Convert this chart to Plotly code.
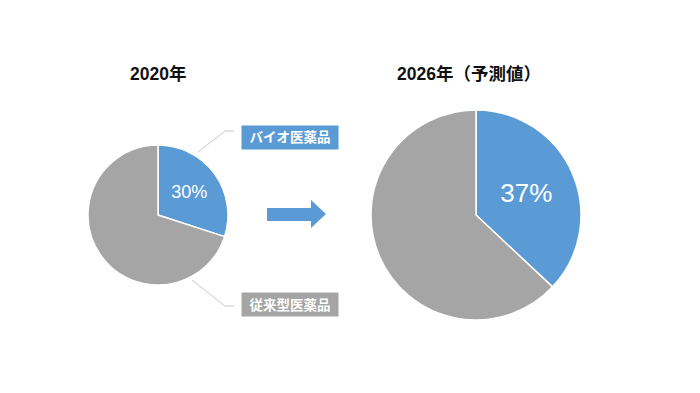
import plotly.graph_objects as go

categories = ["バイオ医薬品", "従来型医薬品"]
share_2020 = [30, 70]
share_2026 = [37, 63]
titles = ["2020年", "2026年（予測値）"]
colors = ["#5B9BD5", "#A5A5A5"]

W, H = 700, 393
FONT = "Liberation Sans, Arial, Noto Sans CJK JP, sans-serif"

def px(x):
    return x / W

def py(y):
    return 1 - y / H

fig = go.Figure()

def add_pie(values, cx, cy, r, fsize):
    fig.add_trace(go.Pie(
        labels=categories, values=values, sort=False, direction="clockwise",
        rotation=0, marker=dict(colors=colors, line=dict(color="white", width=1.5)),
        texttemplate=["%{percent:.0%}", ""], textposition="inside",
        insidetextorientation="horizontal",
        textfont=dict(color="white", size=fsize, family=FONT),
        domain=dict(x=[px(cx - r), px(cx + r)], y=[py(cy + r), py(cy - r)]),
        showlegend=False, hoverinfo="label+percent",
    ))

add_pie(share_2020, 158, 215, 70, 18)
add_pie(share_2026, 476, 215, 105, 26)

# titles
for t, x in zip(titles, [158, 469]):
    fig.add_annotation(text=f"<b>{t}</b>", x=px(x), y=py(74), xref="paper", yref="paper",
                       showarrow=False, font=dict(size=17.5, color="#111", family=FONT),
                       xanchor="center", yanchor="middle")

# category label boxes
for cat, col, y in zip(categories, colors, [138, 304]):
    fig.add_annotation(text=f"<b>{cat}</b>", x=px(290), y=py(y), xref="paper", yref="paper",
                       showarrow=False, font=dict(size=13.5, color="white", family=FONT),
                       bgcolor=col, width=90, height=17, borderpad=3,
                       xanchor="center", yanchor="middle")

# leader lines
fig.add_shape(type="path", xref="paper", yref="paper",
              path=f"M {px(198)} {py(152)} L {px(225)} {py(131)} L {px(234)} {py(131)}",
              line=dict(color="#C8C8C8", width=1))
fig.add_shape(type="path", xref="paper", yref="paper",
              path=f"M {px(192)} {py(280)} L {px(225)} {py(306)} L {px(234)} {py(306)}",
              line=dict(color="#C8C8C8", width=1))

# arrow
arrow = [(267, 208), (311, 208), (311, 200), (326, 214), (311, 228), (311, 221), (267, 221)]
path = "M " + " L ".join(f"{px(x)} {py(y)}" for x, y in arrow) + " Z"
fig.add_shape(type="path", xref="paper", yref="paper", path=path,
              fillcolor="#5B9BD5", line=dict(width=0))

fig.update_layout(width=W, height=H, margin=dict(l=0, r=0, t=0, b=0),
                  paper_bgcolor="white", plot_bgcolor="white",
                  font=dict(family=FONT))

fig.write_html("out.html")
